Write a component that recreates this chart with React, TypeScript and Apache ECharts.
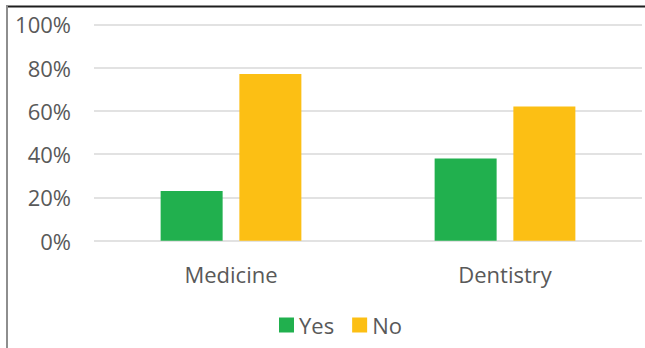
import React, { useEffect, useRef } from "react";
import * as echarts from "echarts";

const categories = ["Medicine", "Dentistry"];
const yesValues = [23, 38];
const noValues = [77, 62];
const seriesNames = ["Yes", "No"];

export default function App() {
  const ref = useRef<HTMLDivElement>(null);
  useEffect(() => {
    const chart = echarts.init(ref.current!, null, { renderer: "svg" });
    const font = "'Open Sans', 'Noto Sans', sans-serif";
    chart.setOption({
      animation: false,
      backgroundColor: "#ffffff",
      grid: { left: 94, right: 3, top: 24.3, bottom: 107.3, containLabel: false },
      legend: {
        data: seriesNames,
        left: 279,
        top: 313,
        padding: 0,
        itemWidth: 15,
        itemHeight: 15,
        itemGap: 18,
        icon: "rect",
        textStyle: { color: "#595959", fontSize: 22, lineHeight: 24, fontFamily: font },
      },
      xAxis: {
        type: "category",
        data: categories,
        axisLine: { show: false },
        axisTick: { show: false },
        axisLabel: { color: "#595959", fontSize: 22, fontFamily: font, margin: 22, lineHeight: 22 },
      },
      yAxis: {
        type: "value",
        min: 0,
        max: 100,
        interval: 20,
        axisLine: { show: false },
        axisTick: { show: false },
        splitLine: { lineStyle: { color: "#d9d9d9", width: 1.5 } },
        axisLabel: {
          color: "#595959",
          fontSize: 22,
          fontFamily: font,
          margin: 23,
          formatter: "{value}%",
        },
      },
      series: [
        {
          name: seriesNames[0],
          type: "bar",
          data: yesValues,
          barWidth: 62,
          barGap: "27%",
          itemStyle: { color: "#21b04e" },
        },
        {
          name: seriesNames[1],
          type: "bar",
          data: noValues,
          barWidth: 62,
          itemStyle: { color: "#fcbf14" },
        },
      ],
      graphic: [
        { type: "line", shape: { x1: 6, y1: 6.5, x2: 645, y2: 6.5 }, style: { stroke: "#1e1e1e", lineWidth: 2 } },
        { type: "line", shape: { x1: 7, y1: 6, x2: 7, y2: 348 }, style: { stroke: "#8e8e8e", lineWidth: 2 } },
      ],
    });
    return () => chart.dispose();
  }, []);
  return <div ref={ref} style={{ width: 645, height: 348, position: "absolute", left: 0, top: 0 }} />;
}
